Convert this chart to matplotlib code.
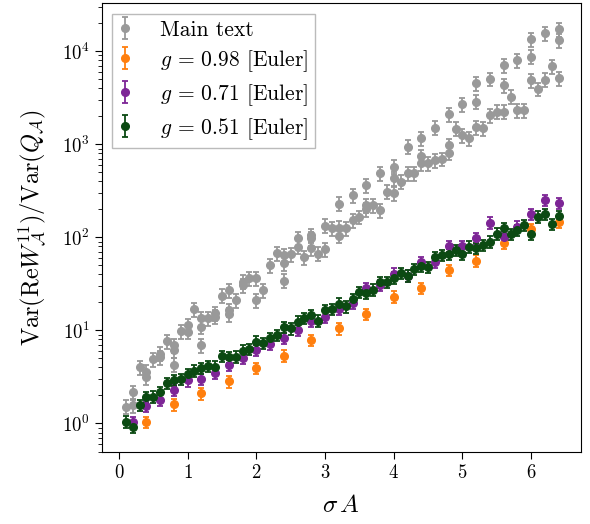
import matplotlib
matplotlib.use("Agg")
import matplotlib.pyplot as plt
import numpy as np

plt.rcParams['font.family'] = 'serif'
plt.rcParams['font.serif'] = ['cmr10', 'DejaVu Serif']
plt.rcParams['mathtext.fontset'] = 'cm'
plt.rcParams['axes.formatter.use_mathtext'] = True
plt.rcParams['axes.unicode_minus'] = False

# ---- data ----
gray_x = [0.1, 0.2, 0.2, 0.3, 0.4, 0.4, 0.5, 0.6, 0.6, 0.7, 0.8, 0.8, 0.8, 0.9, 1.0, 1.0,
          1.1, 1.2, 1.2, 1.2, 1.3, 1.4, 1.4, 1.5, 1.6, 1.6, 1.6, 1.7, 1.8, 1.8, 1.9, 2.0,
          2.0, 2.1, 2.2, 2.3, 2.4, 2.4, 2.4, 2.5, 2.6, 2.6, 2.7, 2.8, 2.8, 2.8, 2.9, 3.0,
          3.0, 3.1, 3.2, 3.2, 3.2, 3.3, 3.4, 3.4, 3.5, 3.6, 3.6, 3.6, 3.7, 3.8, 3.8, 3.9,
          4.0, 4.0, 4.0, 4.1, 4.2, 4.2, 4.3, 4.4, 4.4, 4.4, 4.5, 4.6, 4.6, 4.7, 4.8, 4.8,
          4.8, 4.9, 5.0, 5.0, 5.1, 5.2, 5.2, 5.2, 5.3, 5.4, 5.4, 5.5, 5.6, 5.6, 5.6, 5.7,
          5.8, 5.8, 5.9, 6.0, 6.0, 6.0, 6.1, 6.2, 6.2, 6.3, 6.4, 6.4, 6.4]
gray_y = [1.51, 2.18, 1.58, 4.02, 3.60, 3.16, 4.91, 5.62, 5.18, 7.64, 6.97, 6.16, 4.30, 9.80, 11.4, 9.68,
          16.9, 13.5, 11.0, 6.97, 13.5, 15.3, 14.0, 23.6, 27.2, 16.6, 15.0, 21.2, 33.3, 30.7, 36.3, 36.3,
          21.2, 27.0, 50.4, 67.8, 64.6, 53.0, 34.2, 66.2, 97.5, 79.3, 61.4, 106, 97.5, 76.2, 66.7, 133,
          74.3, 125, 230, 127, 104, 125, 285, 153, 166, 365, 222, 200, 222, 487, 196, 309,
          573, 430, 297, 396, 940, 487, 487, 1157, 747, 623, 623, 1511, 677, 697, 2094, 980,
          811, 1475, 2703, 1256, 1157, 4508, 2860, 1520, 1482, 5040, 2060, 2234, 7094, 4325, 2234, 3236,
          8020, 2330, 2330, 13390, 8710, 4895, 3935, 15530, 4930, 6918, 17140, 13060, 5100]

orange_x = [0.4, 0.8, 1.2, 1.6, 2.0, 2.4, 2.8, 3.2, 3.6, 4.0, 4.4, 4.8, 5.2, 5.6, 6.0, 6.4]
orange_y = [1.03, 1.60, 2.10, 2.83, 3.92, 5.37, 7.89, 10.5, 14.9, 23.0, 28.7, 44.5, 56.4, 87.5, 122, 146]

purple_x = [0.2, 0.4, 0.6, 0.8, 1.0, 1.2, 1.4, 1.6, 1.8, 2.0, 2.2, 2.4, 2.6, 2.8, 3.0, 3.2,
            3.4, 3.6, 3.8, 4.0, 4.2, 4.4, 4.6, 4.8, 5.0, 5.2, 5.4, 5.6, 5.8, 6.0, 6.2, 6.4]
purple_y = [1.03, 1.54, 1.78, 2.29, 2.90, 2.98, 3.51, 4.25, 5.01, 6.16, 7.14, 8.23, 10.1, 12.7, 14.0, 17.1,
            19.8, 28.3, 30.7, 40.8, 38.9, 54.3, 54.7, 80.7, 80.7, 97.5, 144, 100, 130, 178, 252, 232]

green_x = [0.1, 0.2, 0.3, 0.4, 0.5, 0.6, 0.7, 0.8, 0.9, 1.0, 1.1, 1.2, 1.3, 1.4, 1.5, 1.6,
           1.7, 1.8, 1.9, 2.0, 2.1, 2.2, 2.3, 2.4, 2.5, 2.6, 2.7, 2.8, 2.9, 3.0, 3.1, 3.2,
           3.3, 3.4, 3.5, 3.6, 3.7, 3.8, 3.9, 4.0, 4.1, 4.2, 4.3, 4.4, 4.5, 4.6, 4.7, 4.8,
           4.9, 5.0, 5.1, 5.2, 5.3, 5.4, 5.5, 5.6, 5.7, 5.8, 5.9, 6.0, 6.1, 6.2, 6.3, 6.4]
green_y = [1.045, 0.925, 1.58, 1.91, 1.94, 2.16, 2.70, 2.93, 2.98, 3.38, 3.69, 3.92, 4.15, 4.07, 5.31, 5.14,
           5.22, 6.05, 6.27, 7.56, 7.27, 8.23, 8.93, 10.8, 10.5, 12.4, 13.5, 14.6, 12.7, 16.6, 16.9, 19.4,
           18.1, 21.6, 25.7, 25.0, 27.5, 33.3, 33.3, 37.0, 41.0, 38.9, 45.4, 48.8, 48.0, 61.0, 64.6, 66.2,
           73.1, 66.2, 79.3, 76.2, 82.7, 89.7, 110, 125, 108, 120, 136, 108, 167, 178, 139, 169]

# relative error-bar half sizes
gray_rel_err = 0.17
orange_rel_err = 0.14
purple_rel_err = 0.14
green_rel_err = 0.14

labels = ["Main text", r"$g \,=\, 0.98$ [Euler]", r"$g \,=\, 0.71$ [Euler]", r"$g \,=\, 0.51$ [Euler]"]
colors = ["#999999", "#ff7f0e", "#7d2596", "#0b4a12"]

fig = plt.figure(figsize=(5.9, 5.24), dpi=100)
ax = fig.add_axes([0.1724, 0.1368, 0.8118, 0.8575])

series = [(gray_x, gray_y, gray_rel_err), (orange_x, orange_y, orange_rel_err),
          (purple_x, purple_y, purple_rel_err), (green_x, green_y, green_rel_err)]
for (xs, ys, rel), lab, col in zip(series, labels, colors):
    ys = np.asarray(ys, dtype=float)
    ax.errorbar(xs, ys, yerr=ys * rel, fmt='o', color=col, ecolor=col, markersize=5.5,
                capsize=2.5, elinewidth=1.3, capthick=1.3, label=lab)

ax.set_yscale('log')
ax.set_xlim(-0.25, 6.72)
ax.set_ylim(0.49, 3.3e4)
ax.set_xticks([0, 1, 2, 3, 4, 5, 6])
ax.tick_params(axis='both', which='major', labelsize=13.5, length=5, direction='out')
ax.tick_params(axis='y', which='minor', length=3)
ax.set_xlabel(r"$\sigma\,A$", fontsize=18, labelpad=9)
ax.set_ylabel(r"$\mathrm{Var}(\mathrm{Re}W_{\mathcal{A}}^{11})/\mathrm{Var}(Q_{\mathcal{A}})$", fontsize=17.5,
              labelpad=10)

leg = ax.legend(loc='upper left', fontsize=15.5, fancybox=False, edgecolor='#bbbbbb',
                framealpha=1.0, borderpad=0.3, handlelength=0.6, handletextpad=1.3,
                labelspacing=0.38)

fig.savefig("out.png", dpi=100)
